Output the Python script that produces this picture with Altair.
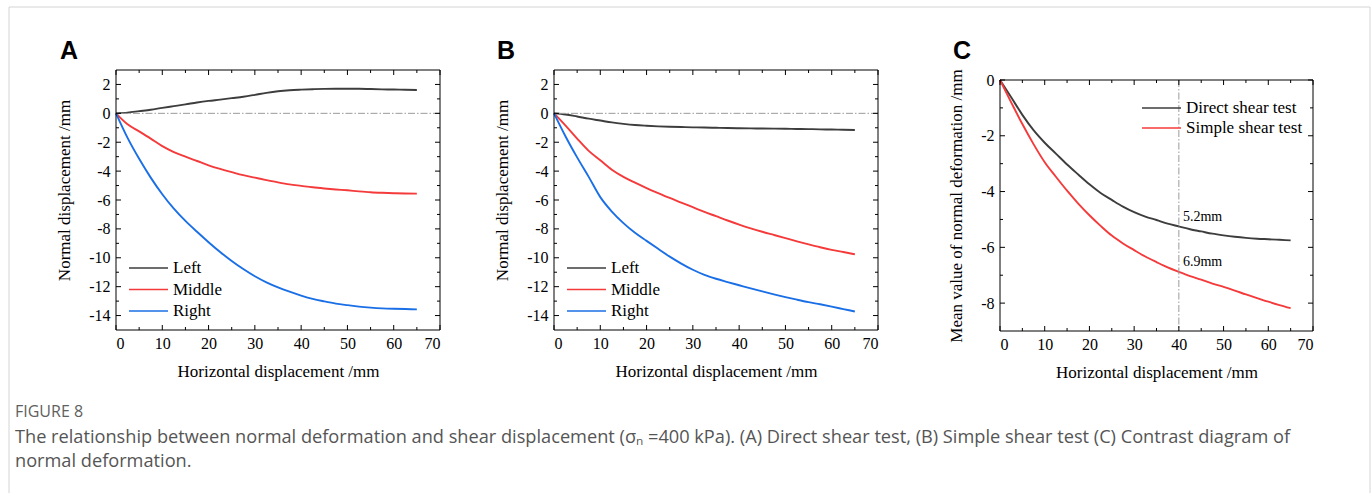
import altair as alt
import pandas as pd

# ---------------- data ----------------
X = [0, 2.5, 5, 7.5, 10, 12.5, 15, 17.5, 20, 22.5, 25, 27.5, 30, 32.5, 35,
     37.5, 40, 42.5, 45, 47.5, 50, 52.5, 55, 57.5, 60, 62.5, 65]

A_left = [0, 0.05, 0.15, 0.25, 0.38, 0.5, 0.62, 0.75, 0.86, 0.95, 1.05, 1.15, 1.28, 1.42,
          1.53, 1.6, 1.64, 1.67, 1.69, 1.7, 1.7, 1.7, 1.68, 1.66, 1.65, 1.63, 1.62]
A_middle = [0, -0.76, -1.25, -1.75, -2.27, -2.68, -3.0, -3.3, -3.6, -3.85, -4.07, -4.28, -4.45,
            -4.62, -4.78, -4.92, -5.02, -5.12, -5.2, -5.27, -5.33, -5.4, -5.46, -5.5, -5.53, -5.55, -5.56]
A_right = [0, -1.7, -3.15, -4.45, -5.6, -6.6, -7.45, -8.2, -8.92, -9.6, -10.22, -10.78, -11.28,
           -11.7, -12.05, -12.35, -12.62, -12.85, -13.02, -13.17, -13.28, -13.38, -13.45, -13.5,
           -13.53, -13.55, -13.57]

B_left = [0, -0.08, -0.22, -0.37, -0.5, -0.63, -0.73, -0.81, -0.86, -0.9, -0.93, -0.95, -0.97,
          -0.98, -1.0, -1.02, -1.03, -1.04, -1.05, -1.06, -1.07, -1.08, -1.09, -1.11, -1.12, -1.14, -1.15]
B_middle = [0, -0.85, -1.75, -2.6, -3.25, -3.9, -4.4, -4.8, -5.17, -5.52, -5.86, -6.18, -6.5,
            -6.82, -7.12, -7.42, -7.7, -7.96, -8.2, -8.42, -8.64, -8.86, -9.07, -9.27, -9.45, -9.6, -9.76]
B_right = [0, -1.6, -3.05, -4.4, -5.8, -6.8, -7.6, -8.27, -8.83, -9.38, -9.92, -10.4, -10.83,
           -11.18, -11.45, -11.68, -11.9, -12.12, -12.33, -12.53, -12.72, -12.9, -13.07, -13.22,
           -13.38, -13.55, -13.72]

C_direct = [0, -0.62, -1.25, -1.8, -2.25, -2.64, -3.03, -3.39, -3.74, -4.05, -4.3, -4.54, -4.74,
            -4.9, -5.02, -5.15, -5.25, -5.35, -5.43, -5.51, -5.57, -5.62, -5.66, -5.69, -5.71, -5.73, -5.75]
C_simple = [0, -0.8, -1.58, -2.3, -2.95, -3.47, -3.97, -4.43, -4.85, -5.23, -5.58, -5.86, -6.1,
            -6.33, -6.53, -6.72, -6.88, -7.03, -7.16, -7.3, -7.42, -7.55, -7.69, -7.82, -7.95, -8.07, -8.18]

SERIES_AB = ["Left", "Middle", "Right"]
COLORS_AB = ["#3d3d3d", "#f43a3a", "#1a6fe6"]
SERIES_C = ["Direct shear test", "Simple shear test"]
COLORS_C = ["#3d3d3d", "#f43a3a"]

ANNOT_X = [40.9, 40.9]
ANNOT_Y = [-4.9, -6.52]
ANNOT_TEXT = ["5.2mm", "6.9mm"]

X_MAJOR = [0, 10, 20, 30, 40, 50, 60, 70]
X_MINOR = [5, 15, 25, 35, 45, 55, 65]
AB_Y_MAJOR = [-14, -12, -10, -8, -6, -4, -2, 0, 2]
AB_Y_MINOR = [-13, -11, -9, -7, -5, -3, -1, 1]
C_Y_MAJOR = [-8, -6, -4, -2, 0]
C_Y_MINOR = [-7, -5, -3, -1]

X_TITLE = "Horizontal displacement /mm"
AB_Y_TITLE = "Normal displacement /mm"
C_Y_TITLE = "Mean value of normal deformation /mm"

CAPTION_HEAD = "FIGURE 8"
CAPTION_1 = ("The relationship between normal deformation and shear displacement (σ\u2099 =400 kPa). "
             "(A) Direct shear test, (B) Simple shear test (C) Contrast diagram of")
CAPTION_2 = "normal deformation."

SERIF = "Liberation Serif"
SANS = "Liberation Sans"
CAP_FONT = "Open Sans"

one = pd.DataFrame({"k": [0]})


def long_df(names, cols):
    rows = []
    for n, c in zip(names, cols):
        for xv, yv in zip(X, c):
            rows.append({"x": xv, "y": yv, "s": n})
    return pd.DataFrame(rows)


def make_axes(ymaj, ytitle, ytitle_y):
    xa = alt.Axis(values=X_MAJOR, ticks=False, tickSize=0, domain=False, grid=False,
                  labelPadding=5.5, titlePadding=11.5, labelExpr="'' + datum.value", title=X_TITLE)
    yargs = dict(values=ymaj, ticks=False, tickSize=0, domain=False, grid=False,
                 labelPadding=6, titlePadding=15, labelExpr="'' + datum.value", title=ytitle)
    if ytitle_y is not None:
        yargs["titleY"] = ytitle_y
    ya = alt.Axis(**yargs)
    return xa, ya


def ticks_layers(xs, ys, xa, ya, W, H, top, ymaj, ymin):
    layers = []
    for vals, ln in ((X_MAJOR, 5), (X_MINOR, 3)):
        d = pd.DataFrame({"x": vals})
        layers.append(alt.Chart(d).mark_rule(color="black", strokeWidth=1).encode(
            x=alt.X("x:Q", scale=xs, axis=xa), y=alt.value(H), y2=alt.value(H - ln)))
        layers.append(alt.Chart(d).mark_rule(color="black", strokeWidth=1).encode(
            x=alt.X("x:Q", scale=xs, axis=xa), y=alt.value(top), y2=alt.value(top + ln)))
    for vals, ln in ((ymaj, 5), (ymin, 3)):
        d = pd.DataFrame({"y": vals})
        layers.append(alt.Chart(d).mark_rule(color="black", strokeWidth=1).encode(
            y=alt.Y("y:Q", scale=ys, axis=ya), x=alt.value(0), x2=alt.value(ln)))
        layers.append(alt.Chart(d).mark_rule(color="black", strokeWidth=1).encode(
            y=alt.Y("y:Q", scale=ys, axis=ya), x=alt.value(W), x2=alt.value(W - ln)))
    return layers


def legend_layers(names, colors, x0, y0, step):
    layers = []
    for i, (n, c) in enumerate(zip(names, colors)):
        yy = y0 + i * step
        layers.append(alt.Chart(one).mark_rule(color=c, strokeWidth=1.5).encode(
            x=alt.value(x0), x2=alt.value(x0 + 39), y=alt.value(yy)))
        layers.append(alt.Chart(one).mark_text(
            text=n, align="left", baseline="middle", font=SERIF, fontSize=17, color="black").encode(
            x=alt.value(x0 + 44), y=alt.value(yy)))
    return layers


def letter(t, x):
    return alt.Chart(one).mark_text(text=t, align="left", baseline="alphabetic", font=SANS,
                                    fontSize=25, fontWeight="bold", color="black").encode(
        x=alt.value(x), y=alt.value(-11))


def panel(df, names, colors, ydom, yrange, W, H, top, ymaj, ymin, ytitle, ytitle_y,
          letter_t, letter_x, legend_pos, extra):
    xs = alt.Scale(domain=[0, 70], nice=False, zero=False)
    if yrange is None:
        ys = alt.Scale(domain=ydom, nice=False, zero=False)
    else:
        ys = alt.Scale(domain=ydom, range=yrange, nice=False, zero=False)
    xa, ya = make_axes(ymaj, ytitle, ytitle_y)
    lines = alt.Chart(df).mark_line(strokeWidth=1.9, interpolate="monotone").encode(
        x=alt.X("x:Q", scale=xs, axis=xa),
        y=alt.Y("y:Q", scale=ys, axis=ya),
        color=alt.Color("s:N", scale=alt.Scale(domain=names, range=colors), legend=None),
        order=alt.Order("x:Q"),
    )
    frame = alt.Chart(one).mark_rect(fillOpacity=0, stroke="black", strokeWidth=1).encode(
        x=alt.value(0), x2=alt.value(W), y=alt.value(top), y2=alt.value(H))
    layers = [lines]
    layers += extra(xs, ys, xa, ya)
    layers += ticks_layers(xs, ys, xa, ya, W, H, top, ymaj, ymin)
    layers += legend_layers(names, colors, *legend_pos)
    layers += [frame, letter(letter_t, letter_x)]
    return layers


def zero_line(xs, ys, xa, ya):
    return [alt.Chart(pd.DataFrame({"y": [0]})).mark_rule(
        color="#9a9a9a", strokeWidth=1, strokeDash=[7, 2, 1.5, 2]).encode(
        y=alt.Y("y:Q", scale=ys, axis=ya))]


def c_extra(xs, ys, xa, ya):
    vline = alt.Chart(pd.DataFrame({"x": [40]})).mark_rule(
        color="#9a9a9a", strokeWidth=1, strokeDash=[7, 2, 1.5, 2]).encode(
        x=alt.X("x:Q", scale=xs, axis=xa), y=alt.value(10), y2=alt.value(261))
    ann = alt.Chart(pd.DataFrame({"x": ANNOT_X, "y": ANNOT_Y, "t": ANNOT_TEXT})).mark_text(
        align="left", baseline="middle", font=SERIF, fontSize=14, color="black").encode(
        x=alt.X("x:Q", scale=xs, axis=xa), y=alt.Y("y:Q", scale=ys, axis=ya), text="t:N")
    return [vline, ann]


dfA = long_df(SERIES_AB, [A_left, A_middle, A_right])
dfB = long_df(SERIES_AB, [B_left, B_middle, B_right])
dfC = long_df(SERIES_C, [C_direct, C_simple])

# caption + outer border (drawn inside panel A, positioned relative to its plot area)
BORDER = "#d4d4d4"
b_left = alt.Chart(one).mark_rule(color=BORDER, strokeWidth=1).encode(
    x=alt.value(-107), y=alt.value(-63), y2=alt.value(423))
b_right = alt.Chart(one).mark_rule(color=BORDER, strokeWidth=1).encode(
    x=alt.value(1254), y=alt.value(-63), y2=alt.value(423))
b_top = alt.Chart(one).mark_rule(color=BORDER, strokeWidth=1).encode(
    x=alt.value(-107), x2=alt.value(1254), y=alt.value(-63))
cap_head = alt.Chart(one).mark_text(text=CAPTION_HEAD, align="left", baseline="alphabetic",
                                    font=CAP_FONT, fontSize=16, color="#606060").encode(
    x=alt.value(-101), y=alt.value(347))
cap_1 = alt.Chart(one).mark_text(text=CAPTION_1, align="left", baseline="alphabetic",
                                 font=CAP_FONT, fontSize=18.2, color="#555555").encode(
    x=alt.value(-101), y=alt.value(373))
cap_2 = alt.Chart(one).mark_text(text=CAPTION_2, align="left", baseline="alphabetic",
                                 font=CAP_FONT, fontSize=18.2, color="#555555").encode(
    x=alt.value(-101), y=alt.value(397))

WA = 324
HA = 260
pA = alt.layer(*panel(dfA, SERIES_AB, COLORS_AB, [-15, 3], None, WA, HA, 0, AB_Y_MAJOR, AB_Y_MINOR,
                      AB_Y_TITLE, 120, "A", -56, (13, 198, 21.5), zero_line),
               b_left, b_right, b_top, cap_head, cap_1, cap_2
               ).properties(width=WA, height=HA)
pB = alt.layer(*panel(dfB, SERIES_AB, COLORS_AB, [-15, 3], None, WA, HA, 0, AB_Y_MAJOR, AB_Y_MINOR,
                      AB_Y_TITLE, 120, "B", -57, (13, 198, 21.5), zero_line)
               ).properties(width=WA, height=HA)
WC = 313
HC = 261
pC = alt.layer(*panel(dfC, SERIES_C, COLORS_C, [-9, 0], [261, 10], WC, HC, 10, C_Y_MAJOR, C_Y_MINOR,
                      C_Y_TITLE, None, "C", -47, (142, 38, 20), c_extra)
               ).properties(width=WC, height=HC)


def spacer(w):
    return alt.Chart(one).mark_point(opacity=0).encode(
        x=alt.value(0), y=alt.value(0)).properties(width=w, height=HA)


chart = alt.hconcat(pA, spacer(114), pB, spacer(122), pC, spacing=0, bounds="flush").properties(
    padding={"left": 8, "top": 6, "right": 1, "bottom": 1},
    background="white",
).configure_view(strokeWidth=0).configure_axis(
    labelFont=SERIF, labelFontSize=16, labelColor="black",
    titleFont=SERIF, titleFontSize=17, titleFontWeight="normal", titleColor="black",
)

chart.save("out.html", embed_options={"renderer": "svg", "actions": False})
